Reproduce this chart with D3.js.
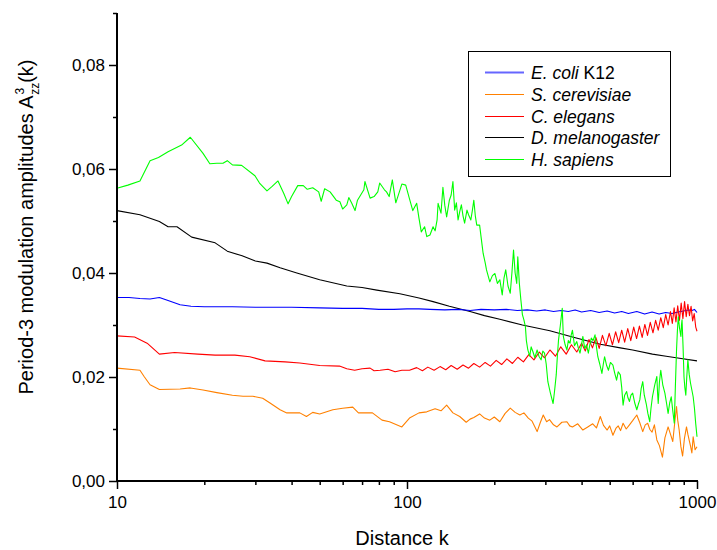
<!DOCTYPE html>
<html>
<head>
<meta charset="utf-8">
<script src="https://cdn.jsdelivr.net/npm/d3@7"></script>
<style>
  body { margin: 0; background: #fff; }
  text { font-family: "Liberation Sans", Arial, sans-serif; }
</style>
</head>
<body>
<svg id="chart" width="717" height="550"></svg>
<script>
// series names + colours
var names = ["E. coli", "S. cerevisiae", "C. elegans", "D. melanogaster", "H. sapiens"];
var colors = ["#0000ff", "#ff8000", "#ff0000", "#000000", "#00ff00"];

// E. coli K12 (blue): [k, A]
var ecoli = [[10,.0353],[11,.0353],[12,.0351],[13,.0350],[14,.0353],[15,.0347],[16.5,.0339],[18,.0336],[20,.0335],
  [25,.0335],[30,.0334],[40,.0334],[50,.0333],[60,.0332],[70,.0332],[80,.0330],[90,.0330],[100,.0331],[110,.0331],
  [120,.0330],[135,.0329],[150,.0330],[165,.0328],[180,.0330],[200,.0329],[220,.0330],[240,.0328],[260,.0329],
  [280,.0327],[300,.0329],[320,.0326],[340,.0328],[360,.0326],[380,.0329],[400,.0325],[430,.0328],[460,.0324],
  [490,.0327],[520,.0323],[550,.0326],[580,.0322],[620,.0326],[660,.0321],[700,.0325],[740,.0321],[780,.0324],
  [820,.0322],[860,.0325],[900,.0327],[930,.0329],[960,.0328],[980,.0330],[1000,.0324]];

// S. cerevisiae (orange)
var scer = [[10,.0217],[12,.0213],[12.4,.0201],[13,.0185],[14,.0176],[16.5,.0177],[17.9,.0179],[19.8,.0175],
  [22.1,.0170],[25,.0165],[27.2,.0163],[29.4,.0163],[31.8,.0159],[33.7,.0150],[36.5,.0137],[38.5,.0131],
  [42.7,.0131],[45,.0124],[47.3,.0132],[50,.0129],[55.5,.0137],[60,.0140],[65,.0142],[68,.0131],[76,.0131],
  [82,.0117],[87,.0114],[96,.0104],[102,.0121],[110,.0131],[117,.0133],[125,.0139],[131,.0135],[137,.0146],
  [144,.0131],[152,.0124],[160,.0113],[165,.0119],[170,.0122],[178,.0129],[185,.0121],[193,.0117],[200,.0123],
  [209,.0114],[218,.0130],[227,.0140],[236,.0132],[245,.0127],[253,.0131],[262,.0121],[270,.0115],[281,.0095],
  [288,.0112],[295,.0127],[303,.0114],[310,.0118],[320,.0108],[329,.0104],[342,.0113],[356,.0114],[364,.0106],
  [372,.0104],[388,.0110],[404,.0098],[420,.0104],[437,.0110],[450,.0102],[464,.0124],[476,.0107],[490,.0098],
  [500,.0106],[513,.0088],[525,.0101],[535,.0106],[545,.0097],[556,.0111],[570,.0100],[585,.0108],[600,.0116],
  [620,.0127],[635,.0112],[650,.0095],[663,.0108],[676,.0111],[688,.0099],[700,.0094],[713,.0108],[727,.0079],
  [742,.0068],[760,.0046],[775,.0083],[795,.0104],[810,.0090],[825,.0076],[838,.0112],[850,.0143],[858,.0117],
  [868,.0098],[880,.0066],[892,.0048],[905,.0082],[920,.0104],[930,.0090],[940,.0078],[950,.0067],[960,.0054],
  [970,.0085],[985,.0060],[1000,.0066]];

// C. elegans (red)
var cele = [[10,.0279],[11.5,.0277],[12.7,.0265],[14,.0244],[15.8,.0247],[19,.0244],[21.8,.0242],[25.5,.0242],
  [28.7,.0239],[32.4,.0231],[38,.0229],[42.7,.0227],[50,.0222],[58.5,.0221],[62,.0216],[66,.0213],[70,.0216],
  [74.6,.0217],[77,.0212],[80.8,.0213],[86,.0215],[91,.0210],[96,.0213],[102,.0213],[108,.0218],[113,.0212],
  [118,.0219],[124,.0213],[130,.0220],[136,.0214],[142,.0222],[149,.0215],[156,.0223],[163,.0217],[170,.0226],
  [178,.0219],[186,.0228],[194,.0221],[203,.0232],[212,.0224],[221,.0235],[231,.0226],[241,.0238],[252,.0229],
  [263,.0243],[274,.0233],[286,.0248],[298,.0237],[311,.0252],[325,.0240],[339,.0258],[354,.0244],[369,.0262],
  [385,.0248],[400,.0265],[412,.0250],[424,.0272],[436,.0256],[448,.0276],[460,.0255],[472,.0280],[485,.0260],
  [498,.0284],[511,.0262],[524,.0287],[537,.0266],[550,.0290],[563,.0267],[577,.0293],[591,.0270],[605,.0296],
  [619,.0274],[633,.0298],[647,.0276],[661,.0301],[675,.0280],[690,.0305],[705,.0285],[720,.0309],[735,.0290],
  [750,.0314],[765,.0295],[780,.0320],[795,.0300],[810,.0326],[822,.0303],[834,.0333],[846,.0306],[858,.0337],
  [870,.0309],[882,.0342],[894,.0312],[906,.0345],[918,.0316],[930,.0340],[942,.0318],[954,.0336],[966,.0308],
  [978,.0322],[990,.0296],[1000,.0288]];

// D. melanogaster (black)
var dmel = [[10,.0520],[12,.0512],[14,.0499],[15,.0489],[16.1,.0489],[18.1,.0469],[21.8,.0458],[24,.0442],
  [27,.0433],[30,.0423],[32.9,.0419],[36.5,.0410],[41.7,.0400],[50,.0387],[62,.0375],[70,.0372],[78.7,.0367],
  [94.5,.0360],[110,.0352],[123,.0345],[140,.0336],[165,.0326],[185,.0318],[209,.0311],[250,.0300],[311,.0289],
  [372,.0277],[464,.0263],[544,.0256],[600,.0252],[702,.0244],[783,.0240],[870,.0236],[1000,.0231]];

// H. sapiens (green)
var hsap = [[10,.0563],[10.9,.0569],[12,.0577],[13,.0616],[13.9,.0622],[15,.0633],[16.7,.0646],[17.9,.0661],
  [19.8,.0630],[20.9,.0610],[22.1,.0611],[23.2,.0611],[24,.0616],[25,.0608],[26.9,.0607],[29.9,.0587],[31,.0573],
  [32.9,.0558],[34.2,.0566],[35.9,.0577],[37.6,.0553],[38.9,.0533],[40,.0547],[42,.0568],[43.9,.0568],[45.3,.0561],
  [47.3,.0564],[49.6,.0556],[50.6,.0538],[52,.0562],[54.3,.0556],[57,.0540],[58.7,.0537],[60,.0523],[62,.0531],
  [63,.0545],[64.5,.0534],[66.2,.0520],[67.5,.0540],[71,.0560],[71.6,.0576],[74.6,.0544],[77,.0547],[79.3,.0556],
  [80.5,.0573],[83.6,.0560],[85,.0556],[86.8,.0547],[89,.0579],[91.5,.0535],[96,.0571],[99,.0569],[101.5,.0547],
  [104.7,.0520],[108,.0534],[110,.0505],[112,.0479],[115,.0489],[117,.0470],[120,.0473],[123,.0489],[125,.0481],
  [127,.0502],[128,.0534],[131,.0515],[133,.0565],[135,.0530],[137,.0508],[140,.0540],[142,.0550],[144,.0576],
  [146,.0521],[148,.0535],[150,.0502],[152,.0518],[154,.0531],[156,.0510],[158,.0496],[161,.0521],[163,.0512],
  [166,.0502],[168,.0520],[170,.0540],[172,.0510],[174,.0492],[178,.0492],[180,.0470],[183,.0438],[186,.0420],
  [188,.0406],[191,.0392],[193,.0383],[197,.0395],[201,.0399],[205,.0380],[209,.0387],[213,.0358],[216,.0390],
  [219,.0406],[223,.0375],[227,.0361],[230,.0400],[233,.0444],[236,.0400],[239,.0380],[241,.0431],[244,.0380],
  [247,.0348],[250,.0320],[253,.0310],[256,.0297],[258,.0270],[261,.0252],[265,.0240],[268,.0258],[272,.0248],
  [276,.0237],[281,.0252],[285,.0240],[290,.0233],[294,.0250],[298,.0246],[302,.0225],[306,.0191],[312,.0170],
  [319,.0149],[323,.0175],[327,.0204],[330,.0240],[333,.0271],[338,.0300],[343,.0332],[346,.0278],[351,.0262],
  [356,.0252],[360,.0270],[365,.0265],[368,.0280],[372,.0290],[378,.0260],[385,.0268],[390,.0255],[395,.0246],
  [400,.0262],[404,.0278],[410,.0255],[416,.0262],[422,.0246],[427,.0262],[432,.0275],[438,.0270],[445,.0281],
  [450,.0258],[455,.0239],[462,.0225],[470,.0207],[475,.0224],[480,.0239],[488,.0222],[495,.0213],[503,.0228],
  [513,.0223],[520,.0208],[528,.0194],[535,.0210],[544,.0204],[550,.0180],[556,.0146],[563,.0165],[572,.0172],
  [578,.0160],[585,.0153],[592,.0165],[600,.0169],[610,.0150],[620,.0137],[628,.0148],[635,.0156],[642,.0178],
  [650,.0191],[658,.0165],[668,.0149],[677,.0130],[687,.0114],[694,.0140],[702,.0162],[715,.0185],[727,.0201],
  [731,.0170],[735,.0149],[742,.0190],[750,.0213],[762,.0185],[775,.0169],[785,.0150],[795,.0130],[805,.0150],
  [815,.0162],[825,.0135],[835,.0111],[842,.0180],[850,.0252],[856,.0290],[862,.0316],[870,.0295],[880,.0278],
  [884,.0300],[888,.0310],[895,.0260],[902,.0200],[908,.0180],[915,.0165],[922,.0200],[930,.0233],[940,.0205],
  [950,.0188],[960,.0175],[970,.0162],[980,.0140],[990,.0110],[1000,.0085]];

var yTicks = [0, 0.02, 0.04, 0.06, 0.08];
var xTicks = [10, 100, 1000];

var series = [ecoli, scer, cele, dmel, hsap];

var svg = d3.select("#chart");
var plotL = 117, plotR = 697, plotT = 13, plotB = 481;

var x = d3.scaleLog().domain([10, 1000]).range([plotL, plotR]);
var y = d3.scaleLinear().domain([0, 0.09]).range([plotB, plotT]);

// data lines
var line = d3.line()
    .x(function(d) { return x(d[0]); })
    .y(function(d) { return y(d[1]); });

// draw in an order close to the original stacking
[3, 0, 2, 1, 4].forEach(function(i) {
    svg.append("path")
        .datum(series[i])
        .attr("fill", "none")
        .attr("stroke", colors[i])
        .attr("stroke-width", 1.1)
        .attr("stroke-linejoin", "round")
        .attr("d", line);
});

// y axis
var yAxis = svg.append("g")
    .attr("transform", "translate(" + plotL + ",0)")
    .call(d3.axisLeft(y).tickValues(yTicks).tickSize(8).tickPadding(4)
        .tickFormat(function(d) { return d3.format(".2f")(d).replace(".", ","); }));
yAxis.select(".domain").attr("stroke-width", 2).attr("d", "M0," + plotT + "V" + plotB);
yAxis.selectAll(".tick line").attr("stroke-width", 1.5);
yAxis.selectAll("text").style("font-size", "17px").attr("fill", "#000");

// y minor ticks
svg.append("g")
    .attr("transform", "translate(" + plotL + ",0)")
    .call(d3.axisLeft(y).tickValues([0.01, 0.03, 0.05, 0.07, 0.09]).tickSize(4).tickFormat(""))
    .call(function(g) { g.select(".domain").remove(); })
    .selectAll("line").attr("stroke-width", 1.5);

// x axis
var xAxis = svg.append("g")
    .attr("transform", "translate(0," + plotB + ")")
    .call(d3.axisBottom(x).tickValues(xTicks).tickSize(8).tickPadding(7)
        .tickFormat(function(d) { return d3.format("d")(d); }));
xAxis.select(".domain").attr("stroke-width", 2).attr("d", "M" + (plotL - 1) + ",0H" + (plotR + 1));
xAxis.selectAll(".tick line").attr("stroke-width", 1.5);
xAxis.selectAll("text").style("font-size", "17px").attr("fill", "#000");

var xMinor = [];
[10, 100].forEach(function(b) { for (var m = 2; m <= 9; m++) xMinor.push(b * m); });
svg.append("g")
    .attr("transform", "translate(0," + plotB + ")")
    .call(d3.axisBottom(x).tickValues(xMinor).tickSize(4).tickFormat(""))
    .call(function(g) { g.select(".domain").remove(); })
    .selectAll("line").attr("stroke-width", 1.5);

// axis titles
svg.append("text")
    .attr("x", (plotL + plotR) / 2 - 5)
    .attr("y", 545)
    .attr("text-anchor", "middle")
    .style("font-size", "20px")
    .text("Distance k");

var yt = svg.append("text")
    .attr("transform", "translate(33,227) rotate(-90)")
    .attr("text-anchor", "middle")
    .style("font-size", "20px");
yt.append("tspan").text("Period-3 modulation amplitudes  A");
yt.append("tspan").attr("dy", -9).attr("dx", 1).style("font-size", "12px").text("3");
yt.append("tspan").attr("dy", 15).attr("dx", -7).style("font-size", "12px").text("zz");
yt.append("tspan").attr("dy", -6).text("(k)");

// legend
var lg = svg.append("g");
lg.append("rect")
    .attr("x", 468.5).attr("y", 51.5).attr("width", 202).attr("height", 125)
    .attr("fill", "#fff").attr("stroke", "#000").attr("stroke-width", 1);

names.forEach(function(n, i) {
    var yy = Math.round(72 + i * 21.8) + 0.5;
    lg.append("line")
        .attr("x1", 485).attr("x2", 524).attr("y1", yy).attr("y2", yy)
        .attr("stroke", i === 0 ? "#6666ff" : colors[i])
        .attr("stroke-width", i === 0 ? 2 : 1);
    var t = lg.append("text")
        .attr("x", 531).attr("y", yy + 6)
        .style("font-size", "17.5px");
    t.append("tspan").style("font-style", "italic").text(n);
    if (i === 0) t.append("tspan").text(" K12");
});
</script>
</body>
</html>
